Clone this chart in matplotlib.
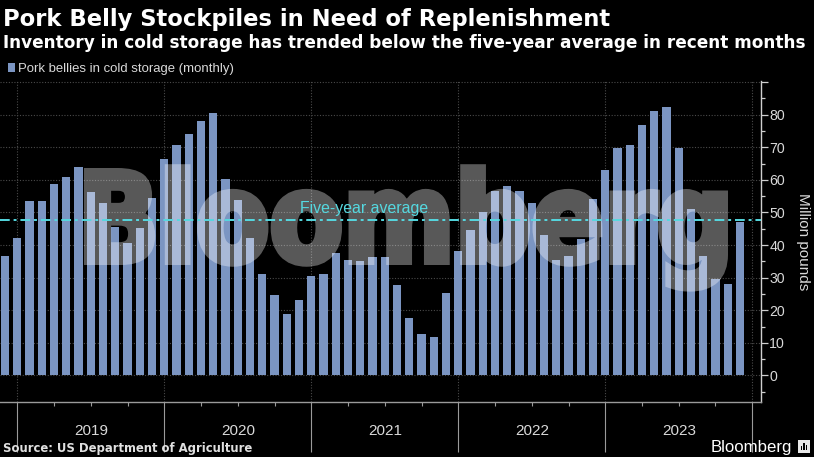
import matplotlib
matplotlib.use("Agg")
import matplotlib.pyplot as plt
import matplotlib.transforms as mtransforms
from matplotlib.textpath import TextPath
from matplotlib.patches import PathPatch, Rectangle
from matplotlib.font_manager import FontProperties
from matplotlib.ticker import FixedLocator
import pandas as pd

# ---------------- data ----------------
months = pd.date_range("2018-12-01", "2023-12-01", freq="MS")
values = [36.7, 42.2, 53.6, 53.6, 58.6, 61.0, 64.0, 56.3, 52.8, 45.6, 40.5, 45.3,
          54.3, 66.5, 70.8, 74.2, 78.0, 80.6, 60.2, 53.8, 42.2, 31.0, 24.8, 19.0,
          23.2, 30.6, 31.2, 37.5, 35.4, 35.2, 36.2, 36.2, 27.6, 17.6, 12.8, 11.7,
          25.2, 38.1, 44.7, 50.1, 56.7, 58.2, 56.7, 53.0, 43.0, 35.5, 36.5, 42.0,
          54.0, 63.0, 69.9, 70.8, 76.9, 81.1, 82.4, 69.8, 51.2, 36.7, 29.6, 28.2,
          47.0]
five_year_avg = 47.7
year_labels = ["2019", "2020", "2021", "2022", "2023"]
y_tick_values = [0, 10, 20, 30, 40, 50, 60, 70, 80, 90]
y_tick_labels = ["0", "10", "20", "30", "40", "50", "60", "70", "80", ""]

title = "Pork Belly Stockpiles in Need of Replenishment"
subtitle = "Inventory in cold storage has trended below the five-year average in recent months"
legend_label = "Pork bellies in cold storage (monthly)"
source = "Source: US Department of Agriculture"
y_label = "Million pounds"
avg_label = "Five-year average"

# ---------------- style ----------------
W, H = 814, 457
BG = "#000000"
BAR = "#7b95c2"
CYAN = "#55d8e0"
GRID = "#4a4a4a"
AXC = "#cfcfcf"
TXT = "#d9d9d9"
SANS = ["Liberation Sans", "DejaVu Sans"]
BOLD = ["DejaVu Sans"]

fig = plt.figure(figsize=(W / 100, H / 100), dpi=100, facecolor=BG)

# axes placement in pixels (top-origin)
ax_left, ax_right, ax_top, ax_bottom = 0.0, 760.7, 81.0, 402.3
ax = fig.add_axes([ax_left / W, 1 - ax_bottom / H, (ax_right - ax_left) / W,
                   (ax_bottom - ax_top) / H])
ax.set_facecolor(BG)

idx = list(range(len(values)))
ax.bar(idx, values, width=0.68, color=BAR, zorder=2, linewidth=0)

ax.set_xlim(-0.41, 61.69)
ax.set_ylim(-8.22, 90.3)

# five-year average
ax.axhline(five_year_avg, color=CYAN, lw=1.4, ls=(0, (5, 2, 1.5, 2)), zorder=5)

# x ticks: January positions (year boundaries), quarterly minor ticks
jan_pos = [i for i, m in enumerate(months) if m.month == 1] + [len(months)]
qtr_pos = [i for i, m in enumerate(months) if m.month in (4, 7, 10)]
jul_pos = [i for i, m in enumerate(months) if m.month == 7]
ax.xaxis.set_major_locator(FixedLocator(jan_pos))
ax.xaxis.set_minor_locator(FixedLocator(qtr_pos))
ax.tick_params(axis="x", which="major", length=36, width=0.8, color="#9a9a9a",
               labelbottom=False, direction="out")
ax.tick_params(axis="x", which="minor", length=3, width=0.8, color="#9a9a9a",
               direction="out")

# y ticks on right
ax.yaxis.tick_right()
ax.set_yticks(y_tick_values)
ax.set_yticklabels(y_tick_labels)
ax.yaxis.set_minor_locator(FixedLocator([-5, 5, 15, 25, 35, 45, 55, 65, 75, 85]))
ax.tick_params(axis="y", which="major", length=5, width=0.9, color=AXC,
               labelcolor=TXT, labelsize=10.2, pad=1.2, direction="out")
ax.tick_params(axis="y", which="minor", length=3, width=0.9, color=AXC,
               direction="out")
for lab in ax.get_yticklabels():
    lab.set_family(SANS)

ax.grid(True, which="major", axis="both", color=GRID, ls=(0, (1, 1.5)), lw=0.8,
        zorder=1)

for s in ["top", "left"]:
    ax.spines[s].set_visible(False)
ax.spines["right"].set_color(AXC)
ax.spines["bottom"].set_color("#9a9a9a")
ax.spines["right"].set_linewidth(1.0)
ax.spines["bottom"].set_linewidth(1.0)

# year labels
blend = mtransforms.blended_transform_factory(ax.transData, fig.transFigure)
for p, lab in zip(jul_pos, year_labels):
    ax.text(p, 1 - 435 / H, lab, transform=blend, ha="center", va="baseline",
            color=TXT, fontsize=11, family=SANS, clip_on=False)

# five-year label
avg_t = ax.text(24.1, five_year_avg + 1.2, avg_label, color=CYAN, fontsize=10.8,
                family=SANS, ha="left", va="bottom", zorder=5)

# right axis label
fig.text(803 / W, 1 - 241.5 / H, y_label, rotation=270, ha="center", va="center",
         color=TXT, fontsize=11, family=SANS)

# titles
t1 = fig.text(3 / W, 1 - 26 / H, title, color="white", fontsize=15,
              fontweight="bold", family=BOLD, ha="left", va="baseline")
t2 = fig.text(3 / W, 1 - 48 / H, subtitle, color="white", fontsize=12,
              fontweight="bold", family=BOLD, ha="left", va="baseline")

# legend
fig.add_artist(Rectangle((8 / W, 1 - 72 / H), 7 / W, 9 / H, transform=fig.transFigure,
                         facecolor=BAR, edgecolor="none"))
t3 = fig.text(18 / W, 1 - 72 / H, legend_label, color=TXT, fontsize=9.5,
              family=SANS, ha="left", va="baseline")

# footer
t4 = fig.text(3 / W, 1 - 452 / H, source, color="#e0e0e0", fontsize=9.2,
              fontweight="bold", family=BOLD, ha="left", va="baseline")
t5 = fig.text(711 / W, 1 - 452 / H, "Bloomberg", color="white", fontsize=12.5,
              family=SANS, ha="left", va="baseline")
fig.add_artist(Rectangle((798 / W, 1 - 453 / H), 12 / W, 13 / H,
                         transform=fig.transFigure, facecolor="#e8e8e8",
                         edgecolor="none"))
for k, hgt in enumerate([4, 7, 5]):
    fig.add_artist(Rectangle(((800.5 + k * 2.6) / W, 1 - 450 / H), 1.4 / W, hgt / H,
                             transform=fig.transFigure, facecolor="black",
                             edgecolor="none"))

# fit text widths to reference
renderer = fig.canvas.get_renderer()
def fit(t, target):
    w = t.get_window_extent(renderer).width
    t.set_fontsize(t.get_fontsize() * target / w)

fit(t1, 609)
fit(t2, 800)
fit(t3, 216)
fit(t4, 250)
fit(t5, 81)
fit(avg_t, 128)

# Bloomberg watermark: heavy text path, emboldened with a stroke and
# flattened to a single uniform transparency through an agg filter
STROKE = 7.0  # px
fp = FontProperties(family="DejaVu Sans", weight="bold")
tp = TextPath((0, 0), "Bloomberg", size=1, prop=fp)
ext = tp.get_extents()
capB = TextPath((0, 0), "B", size=1, prop=fp).get_extents().ymax
x0, x1 = 84 + STROKE / 2, 728 - STROKE / 2
ytop, ybase = 168 + STROKE / 2, 265 - STROKE / 2
sx = (x1 - x0) / ext.width
sy = (ybase - ytop) / capB
tr = mtransforms.Affine2D().translate(-ext.x0, 0).scale(sx, sy).translate(x0, H - ybase)


def flatten_alpha(im, dpi):
    im = im.copy()
    im[..., 3] = im[..., 3] * 0.35
    return im, 0, 0


wm = PathPatch(tp, transform=tr, facecolor="white", edgecolor="white",
               linewidth=STROKE * 72 / 100, joinstyle="miter", zorder=3,
               clip_on=False)
wm.set_agg_filter(flatten_alpha)
ax.add_artist(wm)

fig.savefig("out.png", dpi=100, facecolor=BG)
